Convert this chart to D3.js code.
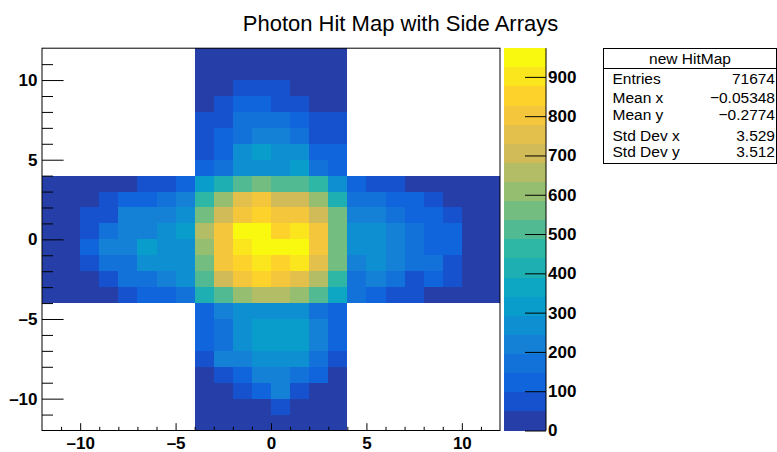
<!DOCTYPE html>
<html>
<head>
<meta charset="utf-8">
<script src="https://cdn.jsdelivr.net/npm/d3@7"></script>
<style>
  body { margin: 0; background: #fff; }
  svg { display: block; }
  text { font-family: "Liberation Sans", Arial, Helvetica, sans-serif; }
</style>
</head>
<body>
<svg id="chart" width="777" height="452"></svg>
<script>
// Histogram binning: one-unit bins over [-12, 12] on both axes
const xRange = [-12, 12];
const yRange = [-12, 12];

// Vertical arm above the centre: rows from y=12 down to y=4, columns x=-4..4
const topArm = [
  [21, 26, 30, 33, 31, 28, 24, 19],
  [27, 33, 38, 42, 44, 39, 32, 25],
  [36, 44, 67, 78, 71, 46, 41, 33],
  [42, 72, 118, 126, 92, 81, 46, 39],
  [63, 88, 162, 178, 171, 124, 77, 68],
  [84, 113, 186, 214, 226, 173, 91, 79],
  [93, 131, 262, 312, 271, 258, 128, 107],
  [122, 168, 274, 281, 266, 309, 163, 119]
];

// Horizontal band: rows from y=4 down to y=-4, columns x=-12..12
const centralBand = [
  [12, 16, 21, 25, 31, 62, 81, 114, 318, 418, 507, 553, 498, 516, 452, 276, 127, 86, 58, 38, 29, 24, 17, 11],
  [17, 22, 35, 72, 103, 128, 176, 213, 466, 604, 748, 797, 712, 701, 598, 408, 182, 161, 131, 106, 68, 41, 27, 15],
  [19, 28, 61, 86, 224, 208, 231, 263, 551, 709, 792, 847, 805, 793, 704, 563, 219, 214, 167, 124, 118, 74, 39, 22],
  [23, 33, 79, 168, 221, 236, 262, 301, 662, 803, 958, 973, 864, 893, 811, 571, 268, 262, 222, 173, 131, 109, 44, 24],
  [21, 31, 112, 206, 232, 305, 271, 279, 612, 795, 902, 947, 941, 939, 788, 557, 274, 259, 217, 168, 126, 103, 41, 20],
  [16, 26, 83, 171, 187, 262, 276, 259, 566, 798, 856, 897, 842, 889, 759, 546, 228, 266, 211, 162, 154, 69, 36, 18],
  [13, 19, 34, 92, 181, 176, 218, 257, 513, 701, 806, 858, 788, 752, 668, 462, 172, 214, 163, 88, 117, 62, 31, 14],
  [9, 14, 23, 41, 79, 124, 137, 186, 412, 521, 607, 662, 648, 598, 503, 368, 161, 129, 84, 71, 46, 33, 21, 12]
];

// Vertical arm below the centre: rows from y=-4 down to y=-12, columns x=-4..4
const bottomArm = [
  [121, 226, 262, 281, 276, 254, 171, 109],
  [133, 188, 271, 318, 327, 302, 213, 116],
  [118, 177, 266, 301, 312, 296, 204, 104],
  [89, 211, 236, 268, 279, 258, 162, 78],
  [41, 76, 131, 219, 227, 174, 108, 37],
  [28, 39, 82, 121, 208, 73, 36, 26],
  [22, 29, 35, 44, 61, 38, 31, 19],
  [14, 21, 26, 31, 33, 27, 19, 13]
];

const xTicks = [-10, -5, 0, 5, 10];
const yTicks = [-10, -5, 0, 5, 10];
const zTicks = [0, 100, 200, 300, 400, 500, 600, 700, 800, 900];
const nContours = 20;

const titleText = "Photon Hit Map with Side Arrays";
const statsTitle = "new HitMap";
const statsLabels = ["Entries", "Mean x", "Mean y", "Std Dev x", "Std Dev y"];
const statsValues = ["71674", "\u22120.05348", "\u22120.2774", "3.529", "3.512"];

// ROOT "bird" palette gradient definition
const birdStops = [0.0000, 0.1250, 0.2500, 0.3750, 0.5000, 0.6250, 0.7500, 0.8750, 1.0000];
const birdRed   = [0.2082, 0.0592, 0.0780, 0.0232, 0.1802, 0.5301, 0.8186, 0.9956, 0.9764];
const birdGreen = [0.1664, 0.3599, 0.5041, 0.6419, 0.7178, 0.7492, 0.7328, 0.7862, 0.9832];
const birdBlue  = [0.5293, 0.8684, 0.8385, 0.7914, 0.6425, 0.4662, 0.3499, 0.1968, 0.0539];

function gradientTable(n) {
  const table = [];
  for (let g = 1; g < birdStops.length; g++) {
    const nc = Math.floor(birdStops[g] * n) - Math.floor(birdStops[g - 1] * n);
    for (let c = 0; c < nc; c++) {
      const t = c / nc;
      const lerp = a => 255 * (a[g - 1] + t * (a[g] - a[g - 1]));
      table.push(d3.rgb(lerp(birdRed), lerp(birdGreen), lerp(birdBlue)).formatHex());
    }
  }
  return table;
}
const palette = gradientTable(255);
const bandColors = d3.range(nContours).map(i =>
  palette[Math.floor((i + 0.99) * palette.length / nContours)]);

// Collect the non-empty bins
const cells = [];
function addBlock(rows, yTop, xLeft) {
  rows.forEach((row, r) => row.forEach((v, c) => {
    if (v > 0) cells.push({ x0: xLeft + c, y1: yTop - r, v });
  }));
}
addBlock(topArm, 12, -4);
addBlock(centralBand, 4, -12);
addBlock(bottomArm, -4, -4);

const zMax = d3.max(cells, d => d.v);

// Layout
const frame = { left: 42, right: 500, top: 48.2, bottom: 430.5 };
const bar = { left: 504.3, right: 546 };

const svg = d3.select("#chart");
svg.append("rect").attr("width", 777).attr("height", 452).attr("fill", "#fff");

const x = d3.scaleLinear().domain(xRange).range([frame.left, frame.right]);
const y = d3.scaleLinear().domain(yRange).range([frame.bottom, frame.top]);
const color = d3.scaleQuantize().domain([0, zMax]).range(bandColors);
const z = d3.scaleLinear().domain([0, zMax]).range([frame.bottom, frame.top]);

// Bins
svg.append("g").attr("shape-rendering", "crispEdges")
  .selectAll("rect").data(cells).join("rect")
  .attr("x", d => x(d.x0))
  .attr("y", d => y(d.y1))
  .attr("width", d => x(d.x0 + 1) - x(d.x0))
  .attr("height", d => y(d.y1 - 1) - y(d.y1))
  .attr("fill", d => color(d.v));

// Frame
svg.append("rect")
  .attr("x", frame.left).attr("y", frame.top)
  .attr("width", frame.right - frame.left).attr("height", frame.bottom - frame.top)
  .attr("fill", "none").attr("stroke", "#000").attr("stroke-width", 1);

const minorX = d3.range(xRange[0] + 1, xRange[1]).filter(v => !xTicks.includes(v));
const minorY = d3.range(yRange[0] + 1, yRange[1]).filter(v => !yTicks.includes(v));
const fmt = v => (v < 0 ? "\u2013" + Math.abs(v) : String(v));

function styleAxis(g, size) {
  g.select(".domain").remove();
  g.selectAll("line").attr("stroke", "#000").attr("stroke-width", 1);
  g.selectAll("text").attr("fill", "#000").attr("font-size", size)
    .attr("font-weight", "bold")
    .attr("font-family", "'Liberation Sans', Arial, Helvetica, sans-serif");
}

// X axis (ticks point into the frame)
svg.append("g").attr("transform", `translate(0,${frame.bottom})`)
  .call(d3.axisBottom(x).tickValues(minorX).tickSize(-3.7).tickFormat(""))
  .call(g => styleAxis(g, 17));
svg.append("g").attr("transform", `translate(0,${frame.bottom})`)
  .call(d3.axisBottom(x).tickValues(xTicks).tickSize(-7.3).tickPadding(6).tickFormat(fmt))
  .call(g => styleAxis(g, 17));

// Y axis
svg.append("g").attr("transform", `translate(${frame.left},0)`)
  .call(d3.axisLeft(y).tickValues(minorY).tickSize(-11).tickFormat(""))
  .call(g => styleAxis(g, 17));
svg.append("g").attr("transform", `translate(${frame.left},0)`)
  .call(d3.axisLeft(y).tickValues(yTicks).tickSize(-21.6).tickPadding(4.5).tickFormat(fmt))
  .call(g => styleAxis(g, 17));

// Colour bar
const bands = d3.range(nContours).map(i => ({
  lo: i * zMax / nContours, hi: (i + 1) * zMax / nContours, fill: bandColors[i]
}));
svg.append("g").attr("shape-rendering", "crispEdges")
  .selectAll("rect").data(bands).join("rect")
  .attr("x", bar.left)
  .attr("y", d => z(d.hi))
  .attr("width", bar.right - bar.left)
  .attr("height", d => z(d.lo) - z(d.hi))
  .attr("fill", d => d.fill);

svg.append("g").attr("transform", `translate(${bar.right},0)`)
  .call(d3.axisRight(z).tickValues(zTicks).tickSize(-21).tickPadding(2).tickFormat(d3.format("d")))
  .call(g => styleAxis(g, 17))
  .call(g => g.append("line")
    .attr("x1", 0).attr("x2", 0).attr("y1", frame.top).attr("y2", frame.bottom)
    .attr("stroke", "#000"));

// Title
svg.append("text")
  .attr("x", 400.5).attr("y", 30.7)
  .attr("text-anchor", "middle")
  .attr("font-size", 22)
  .attr("fill", "#000")
  .text(titleText);

// Statistics box
const stats = svg.append("g");
const box = { left: 603.5, right: 776.5, top: 48.5, bottom: 163.5, header: 68.5 };
stats.append("rect")
  .attr("x", box.left).attr("y", box.top)
  .attr("width", box.right - box.left).attr("height", box.bottom - box.top)
  .attr("fill", "#fff").attr("stroke", "#000");
stats.append("line")
  .attr("x1", box.left).attr("x2", box.right)
  .attr("y1", box.header).attr("y2", box.header)
  .attr("stroke", "#000");
stats.append("text")
  .attr("x", (box.left + box.right) / 2).attr("y", 63.5)
  .attr("text-anchor", "middle").attr("font-size", 15.5)
  .text(statsTitle);
const rowBaselines = [84, 103, 120, 141, 157];
statsLabels.forEach((label, i) => {
  stats.append("text").attr("x", 612.5).attr("y", rowBaselines[i])
    .attr("font-size", 15.5).text(label);
  stats.append("text").attr("x", 775).attr("y", rowBaselines[i])
    .attr("text-anchor", "end").attr("font-size", 15.5).text(statsValues[i]);
});
</script>
</body>
</html>
